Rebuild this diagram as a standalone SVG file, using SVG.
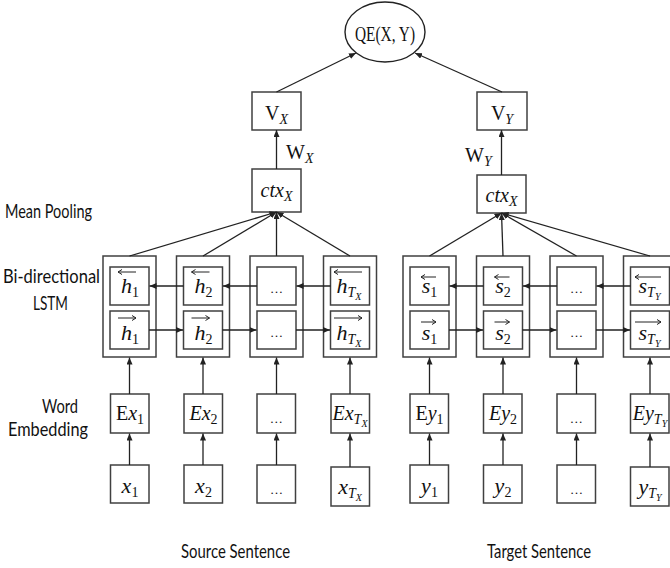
<svg xmlns="http://www.w3.org/2000/svg" width="670" height="568" viewBox="0 0 670 568">
  <style>
    .box { fill: #ffffff; stroke: #404040; stroke-width: 1.5; }
    .ln { stroke: #222222; stroke-width: 1.3; fill: none; }
    .acc { stroke: #222222; stroke-width: 1; fill: none; }
    .m { font-family: "Liberation Serif", "DejaVu Serif", serif; font-style: italic; font-size: 20px; fill: #111111; }
    .big { font-size: 22px; }
    .up { font-style: normal; }
    .s1 { font-size: 14px; }
    .s2 { font-size: 10px; }
    .dig { font-style: normal; }
    .dots { font-family: "Liberation Serif", serif; font-size: 13px; fill: #111111; }
    .lab { font-family: Lato, "Liberation Sans", Arial, sans-serif; font-size: 19px; fill: #111111; }
  </style>
  <defs>
    <marker id="ah" markerWidth="8" markerHeight="8" refX="7" refY="3" orient="auto" markerUnits="userSpaceOnUse">
      <path d="M0,0 L7,3 L0,6 z" fill="#222222"/>
    </marker>
  </defs>
  <rect width="670" height="568" fill="#ffffff"/>

  <!-- quality estimate -->
  <g id="qe">
    <ellipse cx="385" cy="32" rx="40" ry="30" fill="#ffffff" stroke="#222222" stroke-width="1.4"/>
    <text x="355" y="41" class="m up" font-size="25" textLength="60" lengthAdjust="spacingAndGlyphs">QE(X, Y)</text>
  </g>

  <!-- sentence vectors -->
  <g id="vx">
    <rect class="box" x="252" y="92" width="49" height="38"/>
    <text x="276.5" y="120" class="m" text-anchor="middle"><tspan class="up">V</tspan><tspan dy="4" class="s1">X</tspan></text>
  </g>
  <g id="vy">
    <rect class="box" x="477" y="92" width="50" height="38"/>
    <text x="502" y="120" class="m" text-anchor="middle"><tspan class="up">V</tspan><tspan dy="4" class="s1">Y</tspan></text>
  </g>
  <text x="286" y="159" class="m up">W<tspan dy="4" class="s1" font-style="italic">X</tspan></text>
  <text x="465" y="162" class="m up">W<tspan dy="4" class="s1" font-style="italic">Y</tspan></text>

  <!-- pooled contexts -->
  <g id="ctx-src">
    <rect class="box" x="252" y="169" width="49" height="43"/>
    <text x="276.5" y="197" class="m" text-anchor="middle">ctx<tspan dy="4" class="s1">X</tspan></text>
  </g>
  <g id="ctx-tgt">
    <rect class="box" x="477" y="175" width="49" height="38"/>
    <text x="501.5" y="202" class="m" text-anchor="middle">ctx<tspan dy="4" class="s1">X</tspan></text>
  </g>

  <!-- source LSTM cells -->
  <g id="lstm-x1">
    <rect class="box" x="103" y="256" width="53" height="101"/>
    <rect class="box" x="110" y="267" width="39" height="38"/>
    <rect class="box" x="110" y="311" width="39" height="38"/>
    <text x="130" y="293" class="m big" text-anchor="middle">h<tspan dy="4" class="s1 dig">1</tspan></text>
    <path class="acc" d="M136,272 H118 M118,272 l4,-2.5 M118,272 l4,2.5"/>
    <text x="130" y="340" class="m big" text-anchor="middle">h<tspan dy="4" class="s1 dig">1</tspan></text>
    <path class="acc" d="M118,318 H136 M136,318 l-4,-2.5 M136,318 l-4,2.5"/>
  </g>
  <g id="lstm-x2">
    <rect class="box" x="176.5" y="256" width="53" height="101"/>
    <rect class="box" x="183.5" y="267" width="39" height="38"/>
    <rect class="box" x="183.5" y="311" width="39" height="38"/>
    <text x="203.5" y="293" class="m big" text-anchor="middle">h<tspan dy="4" class="s1 dig">2</tspan></text>
    <path class="acc" d="M209.5,272 H191.5 M191.5,272 l4,-2.5 M191.5,272 l4,2.5"/>
    <text x="203.5" y="340" class="m big" text-anchor="middle">h<tspan dy="4" class="s1 dig">2</tspan></text>
    <path class="acc" d="M191.5,318 H209.5 M209.5,318 l-4,-2.5 M209.5,318 l-4,2.5"/>
  </g>
  <g id="lstm-x3">
    <rect class="box" x="250" y="256" width="53" height="101"/>
    <rect class="box" x="257" y="267" width="39" height="38"/>
    <rect class="box" x="257" y="311" width="39" height="38"/>
    <text x="276.5" y="293" class="dots" text-anchor="middle">…</text>
    <text x="276.5" y="337" class="dots" text-anchor="middle">…</text>
  </g>
  <g id="lstm-x4">
    <rect class="box" x="323.5" y="256" width="53" height="101"/>
    <rect class="box" x="330.5" y="267" width="39" height="38"/>
    <rect class="box" x="330.5" y="311" width="39" height="38"/>
    <text x="349" y="293" class="m big" text-anchor="middle">h<tspan dy="4" class="s1">T</tspan><tspan dy="3" class="s2">X</tspan></text>
    <path class="acc" d="M362,272 H334 M334,272 l4,-2.5 M334,272 l4,2.5"/>
    <text x="349" y="340" class="m big" text-anchor="middle">h<tspan dy="4" class="s1">T</tspan><tspan dy="3" class="s2">X</tspan></text>
    <path class="acc" d="M334,318 H362 M362,318 l-4,-2.5 M362,318 l-4,2.5"/>
  </g>

  <!-- target LSTM cells -->
  <g id="lstm-y1">
    <rect class="box" x="403" y="256" width="53" height="101"/>
    <rect class="box" x="410" y="267" width="39" height="38"/>
    <rect class="box" x="410" y="311" width="39" height="38"/>
    <text x="429.5" y="293" class="m big" text-anchor="middle">s<tspan dy="4" class="s1 dig">1</tspan></text>
    <path class="acc" d="M436,277 H421 M421,277 l4,-2.5 M421,277 l4,2.5"/>
    <text x="429.5" y="340" class="m big" text-anchor="middle">s<tspan dy="4" class="s1 dig">1</tspan></text>
    <path class="acc" d="M421,322 H436 M436,322 l-4,-2.5 M436,322 l-4,2.5"/>
  </g>
  <g id="lstm-y2">
    <rect class="box" x="476.5" y="256" width="53" height="101"/>
    <rect class="box" x="483.5" y="267" width="39" height="38"/>
    <rect class="box" x="483.5" y="311" width="39" height="38"/>
    <text x="503" y="293" class="m big" text-anchor="middle">s<tspan dy="4" class="s1 dig">2</tspan></text>
    <path class="acc" d="M509.5,277 H494.5 M494.5,277 l4,-2.5 M494.5,277 l4,2.5"/>
    <text x="503" y="340" class="m big" text-anchor="middle">s<tspan dy="4" class="s1 dig">2</tspan></text>
    <path class="acc" d="M494.5,322 H509.5 M509.5,322 l-4,-2.5 M509.5,322 l-4,2.5"/>
  </g>
  <g id="lstm-y3">
    <rect class="box" x="550" y="256" width="53" height="101"/>
    <rect class="box" x="557" y="267" width="39" height="38"/>
    <rect class="box" x="557" y="311" width="39" height="38"/>
    <text x="576.5" y="293" class="dots" text-anchor="middle">…</text>
    <text x="576.5" y="337" class="dots" text-anchor="middle">…</text>
  </g>
  <g id="lstm-y4">
    <rect class="box" x="623.5" y="256" width="53" height="101"/>
    <rect class="box" x="630.5" y="267" width="39" height="38"/>
    <rect class="box" x="630.5" y="311" width="39" height="38"/>
    <text x="649.5" y="293" class="m big" text-anchor="middle">s<tspan dy="4" class="s1">T</tspan><tspan dy="3" class="s2">Y</tspan></text>
    <path class="acc" d="M661,277 H635 M635,277 l4,-2.5 M635,277 l4,2.5"/>
    <text x="649.5" y="340" class="m big" text-anchor="middle">s<tspan dy="4" class="s1">T</tspan><tspan dy="3" class="s2">Y</tspan></text>
    <path class="acc" d="M635,322 H661 M661,322 l-4,-2.5 M661,322 l-4,2.5"/>
  </g>

  <!-- word embeddings -->
  <g id="emb-x1">
    <rect class="box" x="110.5" y="394" width="38.5" height="39"/>
    <text x="130" y="420" class="m" text-anchor="middle"><tspan class="up">E</tspan>x<tspan dy="4" class="s1 dig">1</tspan></text>
  </g>
  <g id="emb-x2">
    <rect class="box" x="184" y="394" width="38.5" height="39"/>
    <text x="203.5" y="420" class="m" text-anchor="middle">Ex<tspan dy="4" class="s1 dig">2</tspan></text>
  </g>
  <g id="emb-x3">
    <rect class="box" x="257" y="394" width="38.5" height="39"/>
    <text x="276.5" y="423" class="dots" text-anchor="middle" font-style="italic">…</text>
  </g>
  <g id="emb-x4">
    <rect class="box" x="331" y="394" width="38.5" height="39"/>
    <text x="350" y="420" class="m" text-anchor="middle" font-size="19">Ex<tspan dy="4" class="s1">T</tspan><tspan dy="3" class="s2">X</tspan></text>
  </g>
  <g id="emb-y1">
    <rect class="box" x="410" y="394" width="38.5" height="39"/>
    <text x="429.5" y="420" class="m" text-anchor="middle"><tspan class="up">E</tspan>y<tspan dy="4" class="s1 dig">1</tspan></text>
  </g>
  <g id="emb-y2">
    <rect class="box" x="483.5" y="394" width="38.5" height="39"/>
    <text x="503" y="420" class="m" text-anchor="middle">Ey<tspan dy="4" class="s1 dig">2</tspan></text>
  </g>
  <g id="emb-y3">
    <rect class="box" x="557" y="394" width="38.5" height="39"/>
    <text x="576.5" y="423" class="dots" text-anchor="middle" font-style="italic">…</text>
  </g>
  <g id="emb-y4">
    <rect class="box" x="630.5" y="394" width="38.5" height="39"/>
    <text x="650" y="420" class="m" text-anchor="middle" font-size="19">Ey<tspan dy="4" class="s1">T</tspan><tspan dy="3" class="s2">Y</tspan></text>
  </g>

  <!-- input words -->
  <g id="word-x1">
    <rect class="box" x="110.5" y="465" width="38.5" height="38"/>
    <text x="130" y="493" class="m big" text-anchor="middle">x<tspan dy="4" class="s1 dig">1</tspan></text>
  </g>
  <g id="word-x2">
    <rect class="box" x="184" y="465" width="38.5" height="38"/>
    <text x="203.5" y="493" class="m big" text-anchor="middle">x<tspan dy="4" class="s1 dig">2</tspan></text>
  </g>
  <g id="word-x3">
    <rect class="box" x="257" y="465" width="38.5" height="38"/>
    <text x="276.5" y="494" class="dots" text-anchor="middle">…</text>
  </g>
  <g id="word-x4">
    <rect class="box" x="331" y="467" width="38.5" height="39"/>
    <text x="350" y="494" class="m big" text-anchor="middle">x<tspan dy="4" class="s1">T</tspan><tspan dy="3" class="s2">X</tspan></text>
  </g>
  <g id="word-y1">
    <rect class="box" x="410" y="465" width="38.5" height="38"/>
    <text x="429.5" y="493" class="m big" text-anchor="middle">y<tspan dy="4" class="s1 dig">1</tspan></text>
  </g>
  <g id="word-y2">
    <rect class="box" x="483.5" y="465" width="38.5" height="38"/>
    <text x="503" y="493" class="m big" text-anchor="middle">y<tspan dy="4" class="s1 dig">2</tspan></text>
  </g>
  <g id="word-y3">
    <rect class="box" x="557" y="465" width="38.5" height="38"/>
    <text x="576.5" y="494" class="dots" text-anchor="middle">…</text>
  </g>
  <g id="word-y4">
    <rect class="box" x="630.5" y="467" width="38.5" height="39"/>
    <text x="650" y="494" class="m big" text-anchor="middle">y<tspan dy="4" class="s1">T</tspan><tspan dy="3" class="s2">Y</tspan></text>
  </g>

  <!-- connectors, drawn above the cells so arrowheads stay visible -->
  <g id="connectors">
    <line class="ln" x1="276.5" y1="92" x2="356" y2="53" marker-end="url(#ah)"/>
    <line class="ln" x1="502" y1="92" x2="415" y2="53" marker-end="url(#ah)"/>
    <line class="ln" x1="276.5" y1="169" x2="276.5" y2="130" marker-end="url(#ah)"/>
    <line class="ln" x1="501.5" y1="175" x2="501.5" y2="130" marker-end="url(#ah)"/>
    <!-- mean pooling, source -->
    <line class="ln" x1="129.5" y1="256" x2="276.5" y2="212" marker-end="url(#ah)"/>
    <line class="ln" x1="203" y1="256" x2="276.5" y2="212" marker-end="url(#ah)"/>
    <line class="ln" x1="276.5" y1="256" x2="276.5" y2="212" marker-end="url(#ah)"/>
    <line class="ln" x1="350" y1="256" x2="276.5" y2="212" marker-end="url(#ah)"/>
    <!-- mean pooling, target -->
    <line class="ln" x1="429.5" y1="256" x2="501.5" y2="213" marker-end="url(#ah)"/>
    <line class="ln" x1="503" y1="256" x2="501.5" y2="213" marker-end="url(#ah)"/>
    <line class="ln" x1="576.5" y1="256" x2="501.5" y2="213" marker-end="url(#ah)"/>
    <line class="ln" x1="650" y1="256" x2="501.5" y2="213" marker-end="url(#ah)"/>
    <!-- backward recurrence -->
    <line class="ln" x1="183.5" y1="286" x2="149.5" y2="286" marker-end="url(#ah)"/>
    <line class="ln" x1="257" y1="286" x2="223" y2="286" marker-end="url(#ah)"/>
    <line class="ln" x1="330.5" y1="286" x2="296.5" y2="286" marker-end="url(#ah)"/>
    <line class="ln" x1="483.5" y1="286" x2="449.5" y2="286" marker-end="url(#ah)"/>
    <line class="ln" x1="557" y1="286" x2="523" y2="286" marker-end="url(#ah)"/>
    <line class="ln" x1="630.5" y1="286" x2="596.5" y2="286" marker-end="url(#ah)"/>
    <!-- forward recurrence -->
    <line class="ln" x1="149" y1="330" x2="183" y2="330" marker-end="url(#ah)"/>
    <line class="ln" x1="222.5" y1="330" x2="256.5" y2="330" marker-end="url(#ah)"/>
    <line class="ln" x1="296" y1="330" x2="330" y2="330" marker-end="url(#ah)"/>
    <line class="ln" x1="449" y1="330" x2="483" y2="330" marker-end="url(#ah)"/>
    <line class="ln" x1="522.5" y1="330" x2="556.5" y2="330" marker-end="url(#ah)"/>
    <line class="ln" x1="596" y1="330" x2="630" y2="330" marker-end="url(#ah)"/>
    <!-- embedding to LSTM -->
    <line class="ln" x1="129.5" y1="394" x2="129.5" y2="357.5" marker-end="url(#ah)"/>
    <line class="ln" x1="203" y1="394" x2="203" y2="357.5" marker-end="url(#ah)"/>
    <line class="ln" x1="276.5" y1="394" x2="276.5" y2="357.5" marker-end="url(#ah)"/>
    <line class="ln" x1="350" y1="394" x2="350" y2="357.5" marker-end="url(#ah)"/>
    <line class="ln" x1="429.5" y1="394" x2="429.5" y2="357.5" marker-end="url(#ah)"/>
    <line class="ln" x1="503" y1="394" x2="503" y2="357.5" marker-end="url(#ah)"/>
    <line class="ln" x1="576.5" y1="394" x2="576.5" y2="357.5" marker-end="url(#ah)"/>
    <line class="ln" x1="650" y1="394" x2="650" y2="357.5" marker-end="url(#ah)"/>
    <!-- words to embedding -->
    <line class="ln" x1="129.5" y1="465" x2="129.5" y2="433.5" marker-end="url(#ah)"/>
    <line class="ln" x1="203" y1="465" x2="203" y2="433.5" marker-end="url(#ah)"/>
    <line class="ln" x1="276.5" y1="465" x2="276.5" y2="433.5" marker-end="url(#ah)"/>
    <line class="ln" x1="350" y1="467" x2="350" y2="433.5" marker-end="url(#ah)"/>
    <line class="ln" x1="429.5" y1="465" x2="429.5" y2="433.5" marker-end="url(#ah)"/>
    <line class="ln" x1="503" y1="465" x2="503" y2="433.5" marker-end="url(#ah)"/>
    <line class="ln" x1="576.5" y1="465" x2="576.5" y2="433.5" marker-end="url(#ah)"/>
    <line class="ln" x1="650" y1="467" x2="650" y2="433.5" marker-end="url(#ah)"/>
  </g>

  <!-- layer captions -->
  <g id="captions">
    <text class="lab" x="5" y="218" textLength="87" lengthAdjust="spacingAndGlyphs">Mean Pooling</text>
    <text class="lab" x="3" y="283" textLength="97" lengthAdjust="spacingAndGlyphs">Bi-directional</text>
    <text class="lab" x="33" y="310" textLength="35" lengthAdjust="spacingAndGlyphs">LSTM</text>
    <text class="lab" x="42" y="413" textLength="36" lengthAdjust="spacingAndGlyphs">Word</text>
    <text class="lab" x="8" y="436" textLength="80" lengthAdjust="spacingAndGlyphs">Embedding</text>
    <text class="lab" x="181" y="558" textLength="109" lengthAdjust="spacingAndGlyphs">Source Sentence</text>
    <text class="lab" x="487" y="558" textLength="104" lengthAdjust="spacingAndGlyphs">Target Sentence</text>
  </g>
</svg>
